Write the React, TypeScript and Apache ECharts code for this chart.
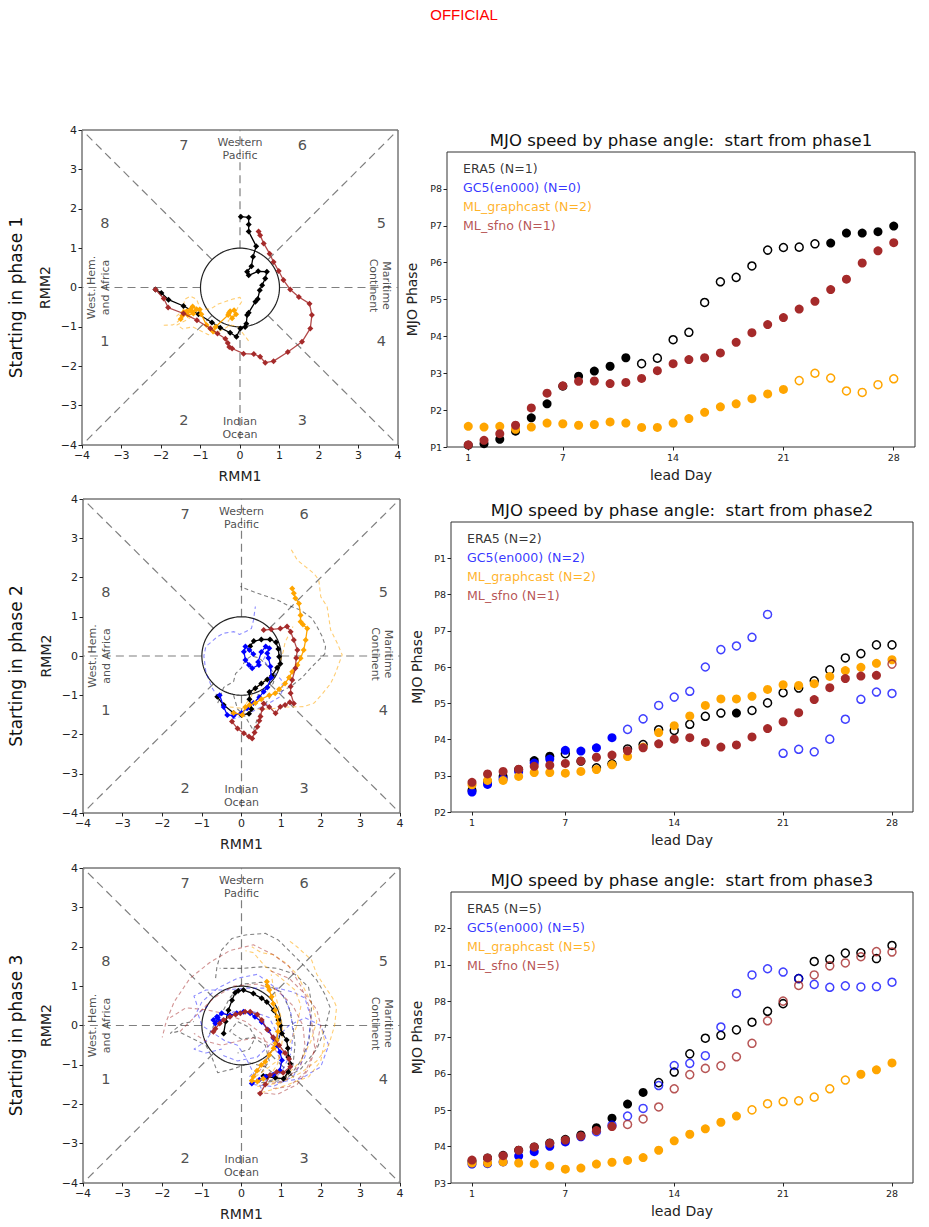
import React, { useEffect, useRef } from "react";
import * as echarts from "echarts";

// ---------------- data: right panels (MJO phase vs lead day) ----------------
const leadDays = [1, 2, 3, 4, 5, 6, 7, 8, 9, 10, 11, 12, 13, 14, 15, 16, 17, 18, 19, 20, 21, 22, 23, 24, 25, 26, 27, 28];
const dayTicks = [1, 7, 14, 21, 28];

// start from phase 1
const r1Era5 = [1.05, 1.09, 1.21, 1.43, 1.79, 2.17, 2.65, 2.92, 3.06, 3.19, 3.42, 3.26, 3.41, 3.91, 4.11, 4.92, 5.48, 5.6, 5.91, 6.34, 6.41, 6.42, 6.51, 6.53, 6.8, 6.8, 6.84, 6.99];
const r1Era5Filled = [1, 1, 1, 1, 1, 1, 1, 1, 1, 1, 1, 0, 0, 0, 0, 0, 0, 0, 0, 0, 0, 0, 0, 1, 1, 1, 1, 1];
const r1Gc5: number[] = [];
const r1Gc5Filled: number[] = [];
const r1Graphcast = [1.56, 1.54, 1.56, 1.48, 1.54, 1.65, 1.63, 1.59, 1.61, 1.68, 1.65, 1.53, 1.53, 1.65, 1.77, 1.94, 2.09, 2.17, 2.31, 2.44, 2.56, 2.8, 3.0, 2.87, 2.52, 2.48, 2.69, 2.85];
const r1GraphcastFilled = [1, 1, 1, 1, 1, 1, 1, 1, 1, 1, 1, 1, 1, 1, 1, 1, 1, 1, 1, 1, 1, 0, 0, 0, 0, 0, 0, 0];
const r1Sfno = [1.06, 1.18, 1.36, 1.59, 2.06, 2.46, 2.66, 2.78, 2.79, 2.72, 2.75, 2.86, 3.07, 3.26, 3.37, 3.42, 3.55, 3.84, 4.1, 4.32, 4.51, 4.74, 4.95, 5.27, 5.55, 5.99, 6.32, 6.54];
const r1SfnoFilled = [1, 1, 1, 1, 1, 1, 1, 1, 1, 1, 1, 1, 1, 1, 1, 1, 1, 1, 1, 1, 1, 1, 1, 1, 1, 1, 1, 1];

// start from phase 2
const r2Era5 = [2.6, 2.84, 2.98, 3.17, 3.42, 3.54, 3.61, 3.4, 3.22, 3.33, 3.74, 3.86, 4.27, 4.25, 4.42, 4.64, 4.73, 4.73, 4.8, 5.01, 5.29, 5.42, 5.62, 5.92, 6.25, 6.37, 6.61, 6.61];
const r2Era5Filled = [1, 1, 1, 1, 1, 1, 0, 1, 0, 0, 0, 0, 0, 0, 0, 0, 0, 1, 0, 0, 0, 0, 0, 0, 0, 0, 0, 0];
const r2Gc5 = [2.55, 2.76, 2.91, 3.12, 3.35, 3.46, 3.7, 3.68, 3.77, 4.05, 4.28, 4.57, 4.94, 5.17, 5.33, 6.0, 6.48, 6.58, 6.82, 7.45, 3.62, 3.73, 3.66, 4.01, 4.56, 5.11, 5.31, 5.27];
const r2Gc5Filled = [1, 1, 1, 1, 1, 1, 1, 1, 1, 1, 0, 0, 0, 0, 0, 0, 0, 0, 0, 0, 0, 0, 0, 0, 0, 0, 0, 0];
const r2Graphcast = [2.75, 2.87, 2.87, 2.98, 3.09, 3.09, 3.07, 3.12, 3.17, 3.3, 3.53, 3.79, 4.19, 4.38, 4.65, 4.94, 5.12, 5.12, 5.19, 5.38, 5.51, 5.49, 5.54, 5.74, 5.9, 5.99, 6.1, 6.2];
const r2GraphcastFilled = [1, 1, 1, 1, 1, 1, 1, 1, 1, 1, 1, 1, 1, 1, 1, 1, 1, 1, 1, 1, 1, 1, 1, 1, 1, 1, 1, 1];
const r2Sfno = [2.82, 3.05, 3.12, 3.18, 3.26, 3.29, 3.34, 3.41, 3.51, 3.57, 3.69, 3.77, 3.88, 4.01, 4.05, 3.92, 3.79, 3.85, 4.07, 4.3, 4.49, 4.74, 5.1, 5.43, 5.68, 5.75, 5.77, 6.08];
const r2SfnoFilled = [1, 1, 1, 1, 1, 1, 1, 1, 1, 1, 1, 1, 1, 1, 1, 1, 1, 1, 1, 1, 1, 1, 1, 1, 1, 1, 1, 0];

// start from phase 3
const r3Era5 = [3.6, 3.69, 3.76, 3.9, 3.99, 4.1, 4.2, 4.32, 4.52, 4.78, 5.17, 5.49, 5.76, 6.05, 6.55, 6.98, 7.06, 7.21, 7.42, 7.72, 7.93, 8.62, 9.09, 9.15, 9.32, 9.33, 9.17, 9.53];
const r3Era5Filled = [1, 1, 1, 1, 1, 1, 1, 1, 1, 1, 1, 1, 0, 0, 0, 0, 0, 0, 0, 0, 0, 0, 0, 0, 0, 0, 0, 0];
const r3Gc5 = [3.52, 3.53, 3.58, 3.74, 3.86, 4.01, 4.13, 4.27, 4.41, 4.59, 4.84, 5.05, 5.68, 6.23, 6.29, 6.5, 7.29, 8.21, 8.72, 8.89, 8.8, 8.62, 8.46, 8.38, 8.42, 8.39, 8.4, 8.52];
const r3Gc5Filled = [1, 1, 1, 1, 1, 1, 1, 1, 0, 0, 0, 0, 0, 0, 0, 0, 0, 0, 0, 0, 0, 0, 0, 0, 0, 0, 0, 0];
const r3Graphcast = [3.55, 3.55, 3.58, 3.55, 3.53, 3.47, 3.38, 3.41, 3.52, 3.57, 3.62, 3.7, 3.9, 4.16, 4.34, 4.49, 4.67, 4.84, 5.01, 5.18, 5.24, 5.26, 5.36, 5.59, 5.83, 5.99, 6.11, 6.3];
const r3GraphcastFilled = [1, 1, 1, 1, 1, 1, 1, 1, 1, 1, 1, 1, 1, 1, 1, 1, 1, 1, 0, 0, 0, 0, 0, 0, 0, 1, 1, 1];
const r3Sfno = [3.63, 3.69, 3.75, 3.9, 3.99, 4.09, 4.18, 4.29, 4.44, 4.55, 4.61, 4.76, 5.09, 5.59, 5.98, 6.15, 6.22, 6.47, 6.84, 7.46, 8.0, 8.43, 8.72, 8.97, 9.05, 9.22, 9.36, 9.35];
const r3SfnoFilled = [1, 1, 1, 1, 1, 1, 1, 1, 1, 1, 0, 0, 0, 0, 0, 0, 0, 0, 0, 0, 0, 0, 0, 0, 0, 0, 0, 0];

const startPhases = [1, 2, 3];
const legendCounts = [
  [1, 0, 2, 1],
  [2, 2, 2, 1],
  [5, 5, 5, 5],
];
const modelNames = ["ERA5", "GC5(en000)", "ML_graphcast", "ML_sfno"];

// ---------------- data: left panels (RMM1, RMM2 trajectories) ----------------
const l1Era5 = [[-2.14, -0.05], [-1.99, -0.14], [-1.81, -0.31], [-1.43, -0.47], [-1.05, -0.68], [-0.71, -0.89], [-0.5, -1.02], [-0.25, -1.15], [-0.09, -1.25], [0.01, -1.04], [0.13, -1.0], [0.16, -0.92], [0.18, -0.7], [0.22, -0.64], [0.39, -0.36], [0.45, -0.29], [0.5, -0.07], [0.56, 0.06], [0.64, 0.23], [0.68, 0.4], [0.46, 0.41], [0.22, 0.31], [0.18, 0.4], [0.29, 0.54], [0.33, 0.78], [0.41, 1.05], [0.22, 1.42], [0.22, 1.6], [0.22, 1.78], [0.02, 1.8]];
const l1Sfno = [[-2.14, -0.05], [-1.93, -0.28], [-1.82, -0.51], [-1.43, -0.66], [-1.09, -0.83], [-0.75, -1.04], [-0.57, -1.17], [-0.37, -1.3], [-0.31, -1.41], [-0.27, -1.51], [-0.2, -1.55], [0.09, -1.68], [0.35, -1.69], [0.51, -1.76], [0.64, -1.91], [0.85, -1.87], [1.21, -1.64], [1.57, -1.38], [1.78, -1.04], [1.82, -0.7], [1.76, -0.41], [1.49, -0.24], [1.27, -0.05], [1.1, 0.19], [0.98, 0.42], [0.85, 0.65], [0.75, 0.86], [0.6, 1.12], [0.51, 1.33], [0.47, 1.42]];
const l1Graphcast = [[-1.25, -0.55], [-1.35, -0.6], [-1.2, -0.48], [-1.1, -0.55], [-1.18, -0.66], [-1.32, -0.7], [-1.42, -0.62], [-1.5, -0.8], [-1.46, -0.72], [-1.22, -0.6], [-1.02, -0.56], [-0.98, -0.68], [-0.85, -0.95], [-0.75, -1.05], [-0.68, -1.12], [-0.62, -1.0], [-0.3, -0.7], [-0.25, -0.6], [-0.15, -0.58], [-0.1, -0.68], [-0.2, -0.78], [-0.28, -0.65]];
const l1GraphcastMembers = [
  [[-1.93, -0.96], [-1.7, -0.95], [-1.55, -0.85], [-1.6, -0.72], [-1.45, -0.6], [-1.4, -0.3], [-1.25, -0.22], [-1.1, -0.3], [-1.0, -0.55], [-0.75, -0.55], [-0.55, -0.42], [-0.35, -0.35], [-0.2, -0.3], [0.0, -0.25], [0.05, -0.35], [-0.05, -0.5], [-0.15, -0.7], [-0.3, -0.85], [-0.25, -1.0]],
  [[-1.1, -0.6], [-1.3, -0.8], [-1.6, -0.95], [-1.45, -1.05], [-1.2, -1.0], [-1.0, -1.1], [-0.8, -1.2], [-0.6, -1.15], [-0.4, -1.05], [-0.25, -0.95], [-0.05, -1.0], [0.1, -1.2], [0.25, -1.4]],
];

const l2Era5 = [[-0.61, -1.04], [-0.45, -1.25], [-0.2, -1.45], [0.0, -1.5], [0.19, -1.47], [0.25, -1.35], [0.2, -1.1], [0.2, -0.92], [0.35, -0.82], [0.5, -0.7], [0.65, -0.6], [0.77, -0.5], [0.9, -0.3], [0.98, -0.2], [0.95, -0.02], [0.93, 0.18], [0.87, 0.35], [0.72, 0.42], [0.5, 0.42], [0.31, 0.38], [0.22, 0.25]];
const l2Gc5 = [[-0.55, -1.0], [-0.45, -1.3], [-0.36, -1.5], [-0.2, -1.52], [0.0, -1.45], [0.14, -1.33], [0.3, -1.2], [0.45, -1.05], [0.56, -0.91], [0.65, -0.8], [0.75, -0.55], [0.73, -0.27], [0.68, -0.05], [0.65, 0.07], [0.7, 0.2], [0.61, 0.24], [0.5, 0.1], [0.42, -0.15], [0.44, -0.23], [0.27, -0.31], [0.19, -0.23], [0.1, -0.1], [0.06, 0.11], [0.1, 0.24], [0.2, 0.15], [0.3, 0.05]];
const l2Graphcast = [[-0.2, -1.45], [0.02, -1.5], [0.1, -1.3], [0.2, -1.25], [0.35, -1.2], [0.5, -1.1], [0.7, -1.0], [0.85, -0.95], [0.95, -0.85], [1.1, -0.7], [1.2, -0.55], [1.28, -0.4], [1.41, -0.23], [1.49, -0.06], [1.57, 0.15], [1.62, 0.41], [1.66, 0.7], [1.55, 0.8], [1.49, 0.87], [1.49, 1.04], [1.45, 1.34], [1.36, 1.47], [1.32, 1.6], [1.28, 1.72]];
const l2Sfno = [[-0.24, -1.67], [-0.1, -1.85], [0.06, -1.97], [0.19, -2.05], [0.27, -2.1], [0.33, -1.95], [0.4, -1.8], [0.45, -1.65], [0.48, -1.54], [0.52, -1.35], [0.56, -1.21], [0.7, -1.3], [0.86, -1.46], [0.98, -1.29], [1.1, -1.25], [1.22, -1.18], [1.32, -1.21], [1.24, -0.95], [1.24, -0.78], [1.28, -0.61], [1.36, -0.31], [1.38, -0.05], [1.41, 0.15], [1.32, 0.41], [1.24, 0.62], [1.15, 0.75], [0.98, 0.7], [0.75, 0.68], [0.56, 0.66]];
const l2Era5Members = [
  [[-0.2, -1.0], [-0.1, -1.35], [0.1, -1.55], [0.3, -1.9], [0.4, -1.6], [0.55, -1.3], [0.75, -1.0], [1.0, -0.9], [1.24, -0.78], [1.53, -0.55], [1.78, -0.27], [2.1, 0.05], [2.12, 0.24], [2.04, 0.49], [1.91, 0.74], [1.78, 0.96], [1.49, 1.17], [1.15, 1.3], [0.9, 1.43], [0.4, 1.6], [0.19, 1.68], [-0.03, 1.77]],
  [[-0.6, -1.2], [-0.45, -0.8], [-0.2, -0.65], [-0.15, -0.45], [0.0, -0.3], [0.1, -0.1], [0.25, 0.0], [0.45, -0.05], [0.6, -0.2], [0.75, -0.35], [0.85, -0.5], [0.8, -0.7], [0.6, -0.9], [0.4, -1.0]],
];
const l2Gc5Members = [
  [[-0.5, -1.2], [-0.75, -0.8], [-0.9, -0.4], [-0.95, 0.0], [-0.9, 0.24], [-0.61, 0.49], [-0.45, 0.58], [-0.19, 0.62], [-0.05, 0.55], [0.1, 0.62], [0.25, 0.7], [0.3, 0.9], [0.35, 1.26]],
  [[-0.4, -1.5], [-0.2, -1.6], [0.1, -1.5], [0.4, -1.35], [0.7, -1.2], [0.95, -1.05], [1.05, -0.85], [1.0, -0.6], [0.85, -0.45], [0.7, -0.3], [0.55, -0.1], [0.65, 0.1]],
];
const l2GraphcastMembers = [
  [[-0.3, -1.3], [0.2, -1.35], [0.7, -1.35], [1.1, -1.3], [1.57, -1.29], [1.83, -1.2], [2.05, -0.95], [2.25, -0.7], [2.37, -0.44], [2.54, 0.03], [2.42, 0.32], [2.25, 0.66], [2.2, 1.0], [2.16, 1.26], [2.0, 1.51], [1.95, 1.94], [1.83, 2.1], [1.62, 2.27], [1.41, 2.44], [1.24, 2.74]],
  [[-0.1, -1.5], [0.2, -1.1], [0.35, -0.85], [0.55, -0.65], [0.8, -0.45], [0.95, -0.2], [1.05, 0.1], [1.1, 0.35], [1.2, 0.55], [1.3, 0.75]],
];

const l3Era5 = [[0.55, -1.28], [0.64, -1.3], [0.85, -1.33], [1.06, -1.35], [1.18, -1.18], [1.23, -0.97], [1.18, -0.8], [1.17, -0.58], [1.14, -0.37], [1.02, -0.2], [0.98, 0.0], [0.93, 0.14], [0.81, 0.39], [0.64, 0.6], [0.51, 0.69], [0.3, 0.81], [0.05, 0.9], [-0.08, 0.88], [-0.16, 0.83], [-0.24, 0.64], [-0.33, 0.39], [-0.4, 0.1], [-0.45, -0.2]];
const l3Gc5 = [[0.26, -1.47], [0.45, -1.38], [0.6, -1.3], [0.8, -1.25], [0.97, -1.14], [1.02, -0.88], [0.97, -0.67], [0.89, -0.5], [0.81, -0.33], [0.68, -0.12], [0.51, 0.09], [0.34, 0.22], [0.22, 0.31], [0.05, 0.35], [-0.12, 0.31], [-0.29, 0.26], [-0.5, 0.31], [-0.62, 0.22], [-0.71, 0.14], [-0.66, 0.05], [-0.6, 0.2], [-0.55, 0.1]];
const l3Graphcast = [[0.55, -1.35], [0.4, -1.42], [0.26, -1.4], [0.3, -1.3], [0.39, -1.15], [0.5, -1.0], [0.6, -0.92], [0.7, -0.75], [0.81, -0.58], [0.86, -0.45], [0.89, -0.37], [0.92, -0.15], [0.93, 0.05], [0.9, 0.22], [0.85, 0.39], [0.8, 0.55], [0.76, 0.73], [0.7, 0.9], [0.66, 1.0], [0.64, 1.11]];
const l3Sfno = [[0.47, -1.73], [0.6, -1.5], [0.72, -1.26], [0.89, -1.18], [1.05, -1.2], [1.23, -1.05], [1.2, -0.85], [1.1, -0.7], [0.95, -0.5], [0.8, -0.3], [0.65, -0.1], [0.51, 0.14], [0.4, 0.28], [0.22, 0.35], [0.09, 0.35], [-0.03, 0.31], [-0.15, 0.28], [-0.29, 0.22], [-0.45, 0.14], [-0.55, 0.05], [-0.66, -0.08], [-0.71, -0.16]];
const l3Era5Members = [
  [[0.5, -1.45], [1.0, -1.4], [1.5, -1.1], [1.9, -0.6], [2.1, -0.1], [2.24, 0.45], [2.1, 0.8], [1.9, 1.15], [1.6, 1.5], [1.3, 1.8], [0.93, 2.17], [0.6, 2.34], [0.1, 2.3], [-0.24, 2.21], [-0.5, 1.92], [-0.62, 1.49], [-0.66, 1.15]],
  [[0.7, -1.4], [1.2, -1.3], [1.5, -0.9], [1.7, -0.4], [1.75, 0.1], [1.77, 0.56], [1.69, 0.98], [1.35, 1.3], [0.9, 1.45], [0.51, 1.49], [0.0, 1.45], [-0.55, 1.45]],
  [[0.9, -1.3], [0.6, -1.05], [0.2, -0.95], [-0.2, -1.1], [-0.6, -1.2], [-0.75, -0.8], [-0.9, -0.5], [-1.3, -0.3], [-1.6, -0.15], [-1.8, -0.2], [-1.5, 0.05], [-1.2, 0.1]],
  [[1.1, -1.35], [1.3, -1.0], [1.35, -0.5], [1.3, 0.0], [1.2, 0.45], [1.0, 0.85], [0.5, 1.1], [0.0, 1.05], [-0.3, 0.7], [-0.5, 0.3], [-0.7, 0.0], [-0.85, -0.3]],
  [[0.5, -1.2], [0.7, -0.9], [0.6, -0.5], [0.3, -0.3], [0.0, -0.35], [-0.3, -0.15], [-0.1, 0.1], [0.2, -0.05], [0.35, -0.3], [0.2, -0.6], [-0.1, -0.7]],
];
const l3Gc5Members = [
  [[0.3, -1.5], [0.8, -1.55], [1.3, -1.3], [1.6, -0.8], [1.7, -0.3], [1.75, 0.2], [1.6, 0.7], [1.3, 0.85], [0.9, 0.95], [0.5, 0.95], [0.1, 0.95], [-0.4, 0.9], [-0.9, 0.9], [-1.2, 0.75], [-1.1, 0.45]],
  [[0.6, -1.4], [1.0, -1.2], [1.25, -0.7], [1.3, -0.2], [1.25, 0.3], [1.1, 0.7], [0.8, 1.0], [0.4, 1.3], [-0.1, 1.2], [-0.6, 0.95], [-1.0, 0.6], [-1.2, 0.2]],
  [[0.2, -1.3], [0.5, -1.0], [0.8, -0.6], [0.9, -0.2], [0.7, 0.2], [0.3, 0.35], [-0.2, 0.35], [-0.6, 0.1], [-0.9, -0.4], [-1.2, -0.6], [-0.9, -0.7], [-0.5, -0.6]],
  [[0.9, -1.45], [1.5, -1.35], [2.0, -1.05], [2.2, -0.5], [2.0, 0.0], [1.6, 0.2], [1.2, 0.0], [0.8, -0.4], [0.4, -0.8], [-0.1, -0.9], [-0.5, -0.75]],
  [[0.5, -1.6], [0.3, -1.2], [0.1, -0.8], [-0.1, -0.5], [-0.4, -0.4], [-0.7, -0.2], [-1.0, 0.0], [-1.1, 0.3], [-0.85, 0.5]],
];
const l3GraphcastMembers = [
  [[0.4, -1.55], [1.0, -1.45], [1.5, -1.2], [1.9, -0.9], [2.2, -0.5], [2.35, 0.0], [2.4, 0.47], [2.3, 0.7], [2.11, 0.98], [1.9, 1.3], [1.77, 1.66], [1.4, 2.0], [1.18, 2.17]],
  [[0.6, -1.5], [1.1, -1.3], [1.5, -0.9], [1.75, -0.4], [1.9, 0.1], [1.8, 0.5], [1.6, 0.9], [1.4, 1.3], [1.1, 1.6], [0.8, 1.8], [0.5, 1.85], [0.26, 2.0]],
  [[0.2, -1.4], [0.5, -1.2], [0.9, -0.9], [1.2, -0.5], [1.4, 0.0], [1.5, 0.5], [1.35, 0.9], [1.0, 1.2], [0.6, 1.5], [0.3, 1.85], [0.1, 1.9]],
  [[0.5, -1.7], [0.9, -1.6], [1.3, -1.45], [1.7, -1.3], [2.0, -0.9], [2.1, -0.4], [2.0, 0.0]],
  [[0.7, -1.3], [0.9, -1.0], [1.0, -0.6], [1.05, -0.2], [1.0, 0.2], [0.9, 0.6], [0.8, 1.0], [0.75, 1.3]],
];
const l3SfnoMembers = [
  [[0.4, -1.7], [0.9, -1.75], [1.4, -1.5], [1.7, -1.1], [1.85, -0.6], [1.8, -0.1], [1.7, 0.5], [1.5, 1.0], [1.2, 1.5], [0.8, 1.8], [0.3, 2.05], [-0.3, 1.9], [-0.8, 1.6], [-1.3, 1.2], [-1.7, 0.6], [-1.9, 0.1], [-2.0, -0.3]],
  [[0.6, -1.5], [1.1, -1.4], [1.5, -1.0], [1.6, -0.5], [1.55, 0.0], [1.3, 0.5], [0.9, 0.9], [0.4, 1.05], [-0.2, 1.0], [-0.7, 0.7], [-1.1, 0.3], [-1.4, 0.0], [-1.6, -0.2]],
  [[0.8, -1.6], [1.2, -1.55], [1.6, -1.2], [1.9, -0.5], [2.0, 0.0], [1.9, 0.4], [1.6, 0.8], [1.2, 1.2], [0.7, 1.4]],
  [[0.3, -1.3], [0.6, -1.0], [0.7, -0.6], [0.5, -0.2], [0.1, 0.1], [-0.4, 0.3], [-0.9, 0.4], [-1.4, 0.45], [-1.8, 0.2]],
  [[0.9, -1.35], [1.0, -0.9], [0.8, -0.5], [0.4, -0.3], [-0.1, -0.4], [-0.5, -0.5], [-0.9, -0.4], [-1.2, -0.2]],
];

// ---------------- fixed decorations of the phase diagram ----------------
const phaseNumberLabels = [
  { t: "7", x: -1.42, y: 3.63 }, { t: "6", x: 1.58, y: 3.63 },
  { t: "8", x: -3.42, y: 1.63 }, { t: "5", x: 3.58, y: 1.63 },
  { t: "1", x: -3.42, y: -1.37 }, { t: "4", x: 3.58, y: -1.37 },
  { t: "2", x: -1.42, y: -3.37 }, { t: "3", x: 1.58, y: -3.37 },
];
const regionLabels = [
  { t: "Western\nPacific", x: 0, y: 3.52, r: 0 },
  { t: "Indian\nOcean", x: 0, y: -3.57, r: 0 },
  { t: "West. Hem.\nand Africa", x: -3.58, y: 0.0, r: 90 },
  { t: "Maritime\nContinent", x: 3.55, y: 0.05, r: -90 },
];
const guideSegments = [
  [[1, 0], [4, 0]], [[-1, 0], [-4, 0]], [[0, 1], [0, 4]], [[0, -1], [0, -4]],
  [[0.7071, 0.7071], [4, 4]], [[-0.7071, 0.7071], [-4, 4]],
  [[-0.7071, -0.7071], [-4, -4]], [[0.7071, -0.7071], [4, -4]],
];

const COLORS = ["#000000", "#0000ff", "#ffa500", "#a52a2a"];
const MEMBER_COLORS = ["rgba(0,0,0,0.5)", "rgba(0,0,255,0.45)", "rgba(255,165,0,0.55)", "rgba(165,42,42,0.5)"];
const LEGEND_COLORS = ["rgba(0,0,0,0.8)", "rgba(0,0,255,0.8)", "rgba(255,165,0,0.85)", "rgba(165,42,42,0.8)"];
const FONT = "DejaVu Sans";

const leftGrids = [
  { left: 82, top: 130, width: 316, height: 315 },
  { left: 83, top: 499, width: 317, height: 314 },
  { left: 83, top: 868, width: 317, height: 315 },
];
const rightGrids = [
  { left: 447, top: 152, width: 468, height: 295 },
  { left: 451, top: 522, width: 462, height: 290 },
  { left: 451, top: 892, width: 462, height: 291 },
];

const fmtMinus = (v: number) => (v < 0 ? "\u2212" + Math.abs(v) : String(v));

function buildOption() {
  const grid: any[] = [];
  const xAxis: any[] = [];
  const yAxis: any[] = [];
  const series: any[] = [];
  const graphic: any[] = [];

  const axisCommon = {
    axisLine: { show: false, onZero: false },
    splitLine: { show: false },
    axisTick: { show: true, length: 3.5, lineStyle: { color: "#222", width: 1 } },
  };

  const leftMeans = [
    [l1Era5, null, l1Graphcast, l1Sfno],
    [l2Era5, l2Gc5, l2Graphcast, l2Sfno],
    [l3Era5, l3Gc5, l3Graphcast, l3Sfno],
  ];
  const leftMembers = [
    [[], [], l1GraphcastMembers, []],
    [l2Era5Members, l2Gc5Members, l2GraphcastMembers, []],
    [l3Era5Members, l3Gc5Members, l3GraphcastMembers, l3SfnoMembers],
  ];
  const circle: number[][] = [];
  for (let k = 0; k <= 120; k++) {
    const a = (2 * Math.PI * k) / 120;
    circle.push([Math.cos(a), Math.sin(a)]);
  }

  leftGrids.forEach((g, i) => {
    const gi = grid.length;
    grid.push({ ...g, show: true, borderColor: "#333", borderWidth: 1, backgroundColor: "transparent", containLabel: false, outerBoundsMode: "none" });
    xAxis.push({
      ...axisCommon, type: "value", gridIndex: gi, min: -4, max: 4, interval: 1,
      axisLabel: { fontSize: 11, color: "#222", margin: 5, formatter: fmtMinus, fontFamily: FONT },
      name: "RMM1", nameLocation: "middle", nameGap: 24,
      nameTextStyle: { fontSize: 14, color: "#222", fontFamily: FONT },
    });
    yAxis.push({
      ...axisCommon, type: "value", gridIndex: gi, min: -4, max: 4, interval: 1,
      axisLabel: { fontSize: 11, color: "#222", margin: 5, formatter: fmtMinus, fontFamily: FONT },
      name: "RMM2", nameLocation: "middle", nameGap: 30,
      nameTextStyle: { fontSize: 14, color: "#222", fontFamily: FONT },
    });
    guideSegments.forEach((seg) => {
      series.push({
        type: "line", xAxisIndex: gi, yAxisIndex: gi, data: seg, symbol: "none", silent: true,
        lineStyle: { color: "#7f7f7f", width: 1.2, type: [8, 5] }, z: 1,
      });
    });
    series.push({
      type: "line", xAxisIndex: gi, yAxisIndex: gi, data: circle, symbol: "none", silent: true,
      lineStyle: { color: "#222", width: 1.2 }, z: 2,
    });
    series.push({
      type: "scatter", xAxisIndex: gi, yAxisIndex: gi, symbolSize: 0, silent: true, z: 3,
      data: phaseNumberLabels.map((p) => ({ value: [p.x, p.y], name: p.t })),
      label: { show: true, position: "inside", formatter: "{b}", fontSize: 14.5, color: "#222", fontFamily: FONT },
    });
    regionLabels.forEach((r) => {
      series.push({
        type: "scatter", xAxisIndex: gi, yAxisIndex: gi, symbolSize: 0, silent: true, z: 3,
        data: [{ value: [r.x, r.y], name: r.t }],
        label: { show: true, position: "inside", formatter: "{b}", fontSize: 11, lineHeight: 13.5, color: "#222", rotate: r.r, align: "center", fontFamily: FONT },
      });
    });
    leftMembers[i].forEach((members: any[], m: number) => {
      members.forEach((tr: any) => {
        series.push({
          type: "line", xAxisIndex: gi, yAxisIndex: gi, data: tr, symbol: "none", silent: true, z: 4,
          lineStyle: { color: MEMBER_COLORS[m], width: 1.1, type: [4, 3] },
        });
      });
    });
    leftMeans[i].forEach((tr: any, m: number) => {
      if (!tr) return;
      series.push({
        type: "line", xAxisIndex: gi, yAxisIndex: gi, data: tr, z: 5 + m,
        symbol: "diamond", symbolSize: 6, showSymbol: true,
        lineStyle: { color: COLORS[m], width: 1.3, opacity: m === 3 ? 0.85 : 1 },
        itemStyle: { color: COLORS[m], opacity: 1 },
      });
    });
    graphic.push({
      type: "text", x: 16, y: g.top + g.height / 2 + 10, rotation: Math.PI / 2,
      style: { text: "Starting in phase " + startPhases[i], font: "17px '" + FONT + "'", fill: "#111", align: "center", verticalAlign: "middle" },
    });
  });

  const rightData = [
    [[r1Era5, r1Era5Filled], [r1Gc5, r1Gc5Filled], [r1Graphcast, r1GraphcastFilled], [r1Sfno, r1SfnoFilled]],
    [[r2Era5, r2Era5Filled], [r2Gc5, r2Gc5Filled], [r2Graphcast, r2GraphcastFilled], [r2Sfno, r2SfnoFilled]],
    [[r3Era5, r3Era5Filled], [r3Gc5, r3Gc5Filled], [r3Graphcast, r3GraphcastFilled], [r3Sfno, r3SfnoFilled]],
  ];
  rightGrids.forEach((g, i) => {
    const gi = grid.length;
    const start = startPhases[i];
    const yTicks: number[] = [];
    for (let k = 0; k < 8; k++) yTicks.push(start + k);
    grid.push({ ...g, show: true, borderColor: "#333", borderWidth: 1, backgroundColor: "transparent", containLabel: false, outerBoundsMode: "none" });
    xAxis.push({
      ...axisCommon, type: "value", gridIndex: gi, min: -0.35, max: 29.35,
      axisTick: { ...axisCommon.axisTick, customValues: dayTicks },
      axisLabel: { fontSize: 9.5, color: "#222", margin: 5, customValues: dayTicks, fontFamily: FONT },
      name: "lead Day", nameLocation: "middle", nameGap: 21,
      nameTextStyle: { fontSize: 14, color: "#222", fontFamily: FONT },
    });
    yAxis.push({
      ...axisCommon, type: "value", gridIndex: gi, min: start, max: start + 8, interval: 1,
      axisTick: { ...axisCommon.axisTick, customValues: yTicks },
      axisLabel: {
        fontSize: 9.5, color: "#222", margin: 5, customValues: yTicks, fontFamily: FONT,
        formatter: (v: number) => (v >= start + 8 ? "" : "P" + ((((Math.round(v) - 1) % 8) + 8) % 8 + 1)),
      },
      name: "MJO Phase", nameLocation: "middle", nameGap: 27,
      nameTextStyle: { fontSize: 14, color: "#222", fontFamily: FONT },
    });
    rightData[i].forEach(([vals, filled]: any, m: number) => {
      series.push({
        type: "scatter", xAxisIndex: gi, yAxisIndex: gi, z: 5 + m, silent: true,
        itemStyle: { opacity: 1 },
        data: (vals as number[]).map((v, k) => ({
          value: [leadDays[k], v],
          symbolSize: filled[k] ? 9 : 8,
          itemStyle: filled[k]
            ? { color: COLORS[m], borderColor: COLORS[m], borderWidth: 0, opacity: 1 }
            : { color: "rgba(255,255,255,0)", borderColor: m === 3 ? "rgba(165,42,42,0.8)" : m === 1 ? "rgba(0,0,255,0.75)" : COLORS[m], borderWidth: 1.5, opacity: 1 },
        })),
      });
    });
    graphic.push({
      type: "text", x: g.left + g.width / 2, y: g.top - 12,
      style: { text: "MJO speed by phase angle:  start from phase" + start, font: "16.5px '" + FONT + "'", fill: "#111", align: "center", verticalAlign: "middle" },
    });
    modelNames.forEach((nm, m) => {
      graphic.push({
        type: "text", x: g.left + 16, y: g.top + 16 + m * 19,
        style: { text: nm + " (N=" + legendCounts[i][m] + ")", font: "12.6px '" + FONT + "'", fill: LEGEND_COLORS[m], align: "left", verticalAlign: "middle" },
      });
    });
  });

  graphic.push({
    type: "text", x: 464, y: 14,
    style: { text: "OFFICIAL", font: "15px 'Liberation Sans'", fill: "#ff0000", align: "center", verticalAlign: "middle" },
  });

  return {
    animation: false,
    backgroundColor: "#ffffff",
    textStyle: { fontFamily: FONT },
    grid, xAxis, yAxis, series, graphic,
  };
}

export default function App() {
  const ref = useRef<HTMLDivElement>(null);
  useEffect(() => {
    if (!ref.current) return;
    const chart = echarts.init(ref.current, null, { renderer: "svg" });
    chart.setOption(buildOption() as any);
    return () => chart.dispose();
  }, []);
  return <div ref={ref} style={{ position: "absolute", left: 0, top: 0, width: 929, height: 1227, background: "#fff" }} />;
}
